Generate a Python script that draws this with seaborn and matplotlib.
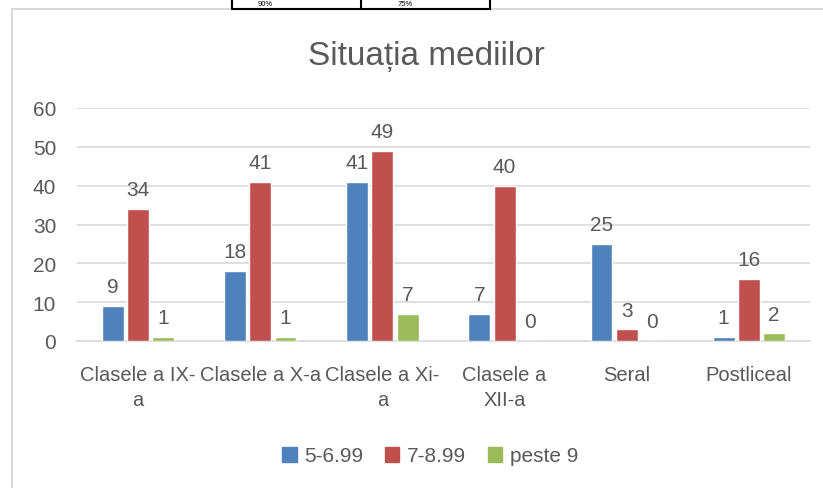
import pandas as pd
import matplotlib.pyplot as plt
import matplotlib.patches as mpatches
import matplotlib.lines as mlines
import seaborn as sns

# Data
categories = ['Clasele a IX-\na', 'Clasele a X-a', 'Clasele a Xi-\na',
              'Clasele a\nXII-a', 'Seral', 'Postliceal']
series = ['5-6.99', '7-8.99', 'peste 9']
vals_5_699 = [9, 18, 41, 7, 25, 1]
vals_7_899 = [34, 41, 49, 40, 3, 16]
vals_peste9 = [1, 1, 7, 0, 0, 2]
colors = ['#4F81BD', '#C0504D', '#9BBB59']

df = pd.DataFrame({
    'cat': categories * 3,
    'val': vals_5_699 + vals_7_899 + vals_peste9,
    'serie': [s for s in series for _ in categories],
})

sns.set_theme(style='white')
plt.rcParams['font.family'] = ['Liberation Sans', 'DejaVu Sans']
grey = '#595959'

fig = plt.figure(figsize=(8.23, 4.89), dpi=100)
ax = fig.add_axes([77 / 823, 1 - 342 / 489, 733 / 823, 233 / 489])

sns.barplot(data=df, x='cat', y='val', hue='serie', palette=colors, saturation=1,
            width=0.62, gap=0.13, ax=ax, legend=False, zorder=3)

for c in ax.containers:
    ax.bar_label(c, padding=7, fontsize=15, color=grey)

ax.set_ylim(0, 60)
ax.set_yticks(range(0, 61, 10))
ax.set_xlim(-0.5, 5.5)
ax.yaxis.grid(True, color='#D9D9D9', linewidth=1.2, zorder=0)
ax.set_axisbelow(True)
for s in ['top', 'right', 'left']:
    ax.spines[s].set_visible(False)
ax.spines['bottom'].set_color('#D9D9D9')
ax.spines['bottom'].set_linewidth(1.2)
ax.tick_params(axis='both', length=0, labelcolor=grey)
ax.tick_params(axis='x', pad=17, labelsize=14.5)
ax.tick_params(axis='y', pad=15, labelsize=15)
for t in ax.get_xticklabels():
    t.set_linespacing(1.45)
ax.set_xlabel('')
ax.set_ylabel('')

fig.text(426 / 823, 1 - 57 / 489, 'Situația mediilor', ha='center', va='center',
         fontsize=24, color=grey)

# legend
handles = [mpatches.Patch(color=c, label=s) for c, s in zip(colors, series)]
fig.legend(handles=handles, loc='center', bbox_to_anchor=(430 / 823, 1 - 457 / 489),
           ncol=3, frameon=False, fontsize=15, handlelength=0.7, handleheight=0.7,
           handletextpad=0.35, columnspacing=1.05, labelcolor=grey)

# chart border
fig.add_artist(mpatches.Rectangle((12 / 823, -0.1), 1.0, 1 - 10 / 489 + 0.1,
                                  transform=fig.transFigure, fill=False,
                                  edgecolor='#D9D9D9', linewidth=1.5))

# piece of the table above the chart
for x in [232, 361, 490]:
    fig.add_artist(mlines.Line2D([x / 823, x / 823], [1 - 10 / 489, 1.01],
                                 transform=fig.transFigure, color='black', linewidth=1.5))
fig.add_artist(mlines.Line2D([232 / 823, 490 / 823], [1 - 10 / 489, 1 - 10 / 489],
                             transform=fig.transFigure, color='black', linewidth=1.5))
fig.text(265 / 823, 1 - 4.5 / 489, '90%', ha='center', va='center', fontsize=5.5, color='black')
fig.text(405 / 823, 1 - 4.5 / 489, '75%', ha='center', va='center', fontsize=5.5, color='black')

fig.savefig('out.png', dpi=100)
